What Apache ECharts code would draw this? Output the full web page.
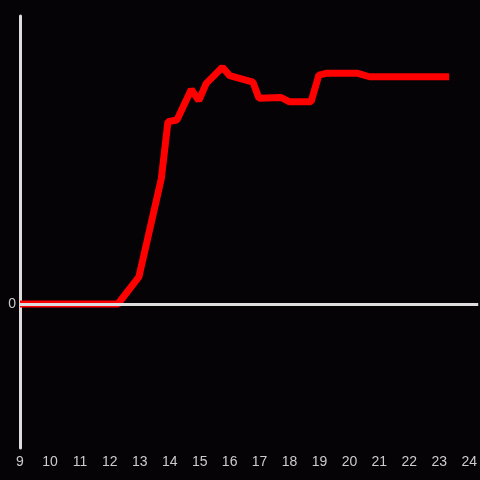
<!DOCTYPE html>
<html>
<head>
<meta charset="utf-8">
<script src="https://cdn.jsdelivr.net/npm/echarts@6/dist/echarts.min.js"></script>
<style>
  html, body { margin: 0; padding: 0; background: #050305; }
  #chart { width: 480px; height: 480px; }
</style>
</head>
<body>
<div id="chart"></div>
<script>
// hour of day, value
const hours = [9, 12.27, 12.97, 13.72, 13.94, 14.24, 14.72, 14.97, 15.22, 15.76, 16.0, 16.78, 16.98, 17.72, 18.0, 18.72, 18.98, 19.22, 20.28, 20.67, 23.33];
const values = [0, 0, 9.4, 43.6, 63.3, 63.9, 74.5, 70.6, 76.6, 82.2, 79.3, 77, 71.4, 71.7, 70.2, 70.2, 79.5, 80.1, 80.1, 78.9, 78.9];

const chart = echarts.init(document.getElementById('chart'));

const option = {
  backgroundColor: '#050305',
  animation: false,
  grid: { left: 20, right: 0, top: 16, bottom: 32 },
  xAxis: {
    type: 'value',
    min: 9,
    max: 24.3,
    interval: 1,
    axisLine: { show: false },
    axisTick: { show: false },
    splitLine: { show: false },
    axisLabel: {
      color: '#cccccc',
      fontSize: 14,
      fontFamily: 'Liberation Sans',
      margin: 7,
      showMaxLabel: false,
      formatter: v => (v % 1 === 0 ? String(v) : '')
    }
  },
  yAxis: {
    type: 'value',
    min: -50,
    max: 100,
    interval: 50,
    axisLine: { show: true, lineStyle: { color: '#dddddd', width: 3 } },
    axisTick: { show: false },
    splitLine: { show: false },
    axisLabel: {
      color: '#cccccc',
      fontSize: 14,
      fontFamily: 'Liberation Sans',
      margin: 4,
      formatter: v => (v === 0 ? '0' : '')
    }
  },
  series: [
    {
      type: 'line',
      data: [],
      z: 1,
      silent: true,
      markLine: {
        symbol: 'none',
        silent: true,
        label: { show: false },
        lineStyle: { color: '#dddddd', width: 3, type: 'solid' },
        data: [{ yAxis: 0 }]
      }
    },
    {
      type: 'line',
      z: 3,
      data: hours.map((h, i) => [h, values[i]]),
      showSymbol: false,
      lineStyle: { color: '#ff0000', width: 7 },
      itemStyle: { color: '#ff0000' }
    }
  ]
};

chart.setOption(option);
</script>
</body>
</html>
